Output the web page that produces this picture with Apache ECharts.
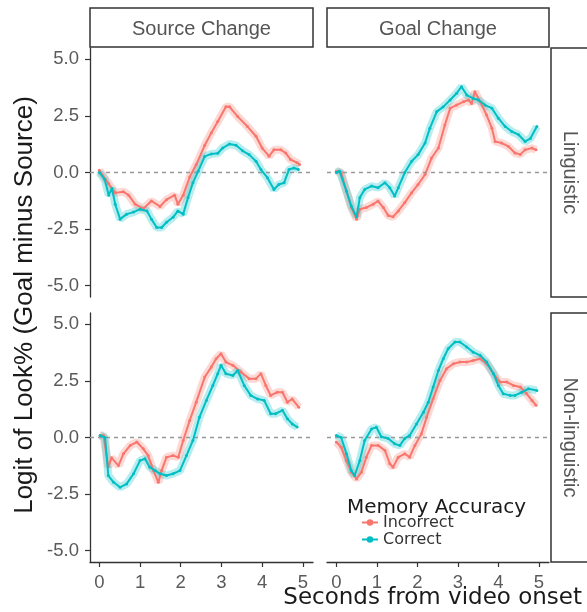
<!DOCTYPE html>
<html><head><meta charset="utf-8">
<script src="https://cdn.jsdelivr.net/npm/echarts@6/dist/echarts.min.js"></script>
<style>html,body{margin:0;padding:0;background:#fff}#c{width:587px;height:612px}</style>
</head><body><div id="c"></div>
<script>
// ---- Facets and ticks ----
const colFacets = ['Source Change', 'Goal Change'];
const rowFacets = ['Linguistic', 'Non-linguistic'];
const accuracyLevels = ['Incorrect', 'Correct'];
const xTicks = [0, 1, 2, 3, 4, 5];
const yTicks = [-5, -2.5, 0, 2.5, 5];

// ---- Source Change / Linguistic ----
const scLingIncT = [0, 0.23, 0.39, 0.59, 0.72, 0.88, 1.08, 1.28, 1.49, 1.65, 1.85, 1.93, 2.06, 2.22, 2.38, 2.59, 2.75, 2.91, 3.11, 3.2, 3.4, 3.64, 3.85, 4.0, 4.17, 4.29, 4.46, 4.58, 4.7, 4.86, 4.92];
const scLingIncV = [0.1, -0.5, -0.9, -0.85, -1.0, -1.4, -1.6, -1.26, -1.5, -1.2, -1.0, -1.4, -1.0, -0.2, 0.35, 1.2, 1.75, 2.25, 2.9, 2.9, 2.47, 2.03, 1.6, 1.08, 0.72, 1.0, 1.0, 0.86, 0.57, 0.43, 0.35];
const scLingCorT = [0, 0.13, 0.23, 0.31, 0.39, 0.51, 0.67, 0.84, 1.0, 1.17, 1.28, 1.41, 1.53, 1.65, 1.81, 1.93, 2.06, 2.18, 2.3, 2.43, 2.59, 2.75, 2.91, 3.03, 3.2, 3.36, 3.52, 3.68, 3.85, 3.97, 4.13, 4.29, 4.41, 4.54, 4.66, 4.78, 4.89];
const scLingCorV = [0.0, -0.3, -1.0, -0.7, -1.4, -2.06, -1.84, -1.75, -1.62, -1.7, -2.06, -2.43, -2.43, -2.2, -1.98, -1.7, -1.84, -1.1, -0.45, 0.06, 0.71, 0.82, 0.85, 1.08, 1.26, 1.2, 0.96, 0.79, 0.5, 0.13, -0.23, -0.75, -0.53, -0.45, 0.13, 0.2, 0.13];

// ---- Goal Change / Linguistic ----
const gcLingIncT = [0, 0.12, 0.25, 0.37, 0.5, 0.58, 0.74, 0.91, 1.03, 1.16, 1.28, 1.4, 1.53, 1.69, 1.86, 2.02, 2.19, 2.35, 2.52, 2.68, 2.81, 2.97, 3.14, 3.26, 3.34, 3.42, 3.55, 3.71, 3.84, 3.92, 4.08, 4.25, 4.41, 4.54, 4.66, 4.83, 4.93];
const gcLingIncV = [0.06, 0.0, -0.82, -1.55, -2.06, -1.62, -1.55, -1.4, -1.26, -1.55, -1.9, -1.96, -1.7, -1.33, -0.89, -0.53, -0.09, 0.64, 1.08, 2.1, 2.84, 2.98, 3.13, 3.2, 3.05, 3.57, 3.13, 2.54, 1.96, 1.37, 1.3, 1.15, 0.86, 0.8, 1.0, 1.08, 1.0];
const gcLingCorT = [0, 0.08, 0.25, 0.37, 0.5, 0.58, 0.7, 0.87, 1.03, 1.2, 1.32, 1.44, 1.53, 1.69, 1.86, 2.02, 2.19, 2.31, 2.48, 2.64, 2.81, 2.97, 3.09, 3.22, 3.38, 3.51, 3.67, 3.84, 4.0, 4.17, 4.33, 4.5, 4.66, 4.79, 4.95];
const gcLingCorV = [0.0, 0.06, -0.82, -1.48, -1.96, -1.11, -0.75, -0.6, -0.67, -0.45, -0.67, -1.04, -0.67, 0.0, 0.5, 0.79, 1.3, 1.96, 2.69, 2.9, 3.2, 3.5, 3.79, 3.42, 3.27, 3.2, 2.98, 2.84, 2.4, 2.03, 1.81, 1.67, 1.37, 1.5, 2.03];

// ---- Source Change / Non-linguistic ----
const scNonIncT = [0.02, 0.1, 0.22, 0.3, 0.47, 0.59, 0.76, 0.92, 1.08, 1.2, 1.33, 1.45, 1.53, 1.65, 1.81, 1.94, 2.06, 2.22, 2.38, 2.59, 2.75, 2.87, 2.99, 3.11, 3.28, 3.48, 3.68, 3.85, 3.97, 4.09, 4.21, 4.37, 4.5, 4.62, 4.74, 4.9];
const scNonIncV = [0.09, 0.09, -1.3, -0.9, -1.24, -0.72, -0.35, -0.2, -0.5, -0.8, -1.46, -1.98, -1.46, -0.87, -0.8, -0.87, -0.13, 0.75, 1.56, 2.67, 3.11, 3.48, 3.7, 3.33, 3.19, 2.89, 2.6, 2.6, 2.82, 2.3, 1.86, 2.0, 2.0, 1.56, 1.7, 1.34];
const scNonCorT = [0.02, 0.14, 0.22, 0.35, 0.51, 0.67, 0.84, 1.0, 1.12, 1.24, 1.37, 1.49, 1.65, 1.81, 1.98, 2.14, 2.3, 2.46, 2.63, 2.79, 2.91, 2.99, 3.11, 3.28, 3.4, 3.56, 3.72, 3.89, 4.05, 4.21, 4.33, 4.5, 4.62, 4.74, 4.86];
const scNonCorV = [0.09, 0.0, -1.68, -1.98, -2.2, -2.05, -1.6, -1.02, -0.94, -1.31, -1.46, -1.6, -1.68, -1.6, -1.46, -0.8, -0.13, 0.9, 1.64, 2.3, 2.82, 3.19, 2.82, 2.74, 2.96, 2.3, 1.86, 1.7, 1.64, 1.05, 1.05, 1.2, 0.83, 0.6, 0.46];

// ---- Goal Change / Non-linguistic ----
const gcNonIncT = [0, 0.12, 0.25, 0.37, 0.5, 0.62, 0.74, 0.87, 1.03, 1.2, 1.32, 1.4, 1.53, 1.69, 1.81, 1.94, 2.1, 2.23, 2.39, 2.56, 2.72, 2.89, 3.05, 3.22, 3.38, 3.55, 3.71, 3.88, 4.04, 4.21, 4.37, 4.54, 4.7, 4.83, 4.93];
const gcNonIncV = [-0.2, -0.43, -1.02, -1.53, -1.83, -1.53, -0.87, -0.35, -0.35, -0.57, -1.16, -1.31, -0.87, -0.72, -0.87, -0.35, 0.16, 0.9, 1.71, 2.52, 3.04, 3.26, 3.33, 3.33, 3.4, 3.48, 3.26, 2.82, 2.45, 2.45, 2.3, 2.23, 1.93, 1.64, 1.42];
const gcNonCorT = [0, 0.12, 0.25, 0.37, 0.45, 0.58, 0.7, 0.87, 0.99, 1.11, 1.28, 1.44, 1.57, 1.69, 1.81, 1.98, 2.15, 2.27, 2.39, 2.52, 2.64, 2.76, 2.93, 3.05, 3.22, 3.38, 3.55, 3.71, 3.88, 4.0, 4.12, 4.29, 4.41, 4.58, 4.74, 4.95];
const gcNonCorV = [0.09, 0.0, -0.72, -1.46, -1.68, -1.02, -0.13, 0.38, 0.45, 0.03, -0.04, -0.28, -0.35, -0.04, 0.09, 0.6, 1.12, 1.56, 2.23, 2.96, 3.48, 3.92, 4.22, 4.22, 4.0, 3.77, 3.63, 3.33, 2.82, 2.3, 1.93, 1.86, 1.86, 2.0, 2.15, 2.08];

// ---- build ----
const panelData = [
  [[scLingIncT, scLingIncV], [scLingCorT, scLingCorV]],
  [[gcLingIncT, gcLingIncV], [gcLingCorT, gcLingCorV]],
  [[scNonIncT, scNonIncV], [scNonCorT, scNonCorV]],
  [[gcNonIncT, gcNonIncV], [gcNonCorT, gcNonCorV]]
];
const colors = ['#F8766D', '#00BFC4'];
const colLeft = [90, 327], colWidth = [223, 222];
const rowTop = [48, 313], panelH = 249;
const sans = 'Liberation Sans, Arial, sans-serif';
const dejavu = 'DejaVu Sans, sans-serif';

const grids = [], xAxes = [], yAxes = [], series = [], graphics = [];
for (let r = 0; r < 2; r++) {
  for (let c = 0; c < 2; c++) {
    const i = r * 2 + c;
    grids.push({ left: colLeft[c], top: rowTop[r], width: colWidth[c], height: panelH, containLabel: false });
    const showX = r === 1, showY = c === 0;
    xAxes.push({
      type: 'value', gridIndex: i, min: -0.23, max: 5.25,
      axisLine: { show: showX, onZero: false, lineStyle: { color: '#333', width: 1.3 } },
      axisTick: { show: showX, customValues: xTicks, length: 5, lineStyle: { color: '#333', width: 1.2 } },
      axisLabel: { show: showX, customValues: xTicks, margin: 11, color: '#5a5a5a', fontSize: 18.5, fontFamily: sans },
      splitLine: { show: false }
    });
    yAxes.push({
      type: 'value', gridIndex: i, min: -5.5, max: 5.5,
      axisLine: { show: showY, onZero: false, lineStyle: { color: '#333', width: 1.3 } },
      axisTick: { show: showY, customValues: yTicks, length: 5, lineStyle: { color: '#333', width: 1.2 } },
      axisLabel: { show: showY, customValues: yTicks, margin: 11, color: '#5a5a5a', fontSize: 18.5, fontFamily: sans,
        formatter: v => v.toFixed(1) },
      splitLine: { show: false }
    });
    for (let a = 0; a < 2; a++) {
      const [ts, vs] = panelData[i][a];
      const data = ts.map((t, k) => [t, vs[k]]);
      const s = {
        type: 'line', name: accuracyLevels[a], xAxisIndex: i, yAxisIndex: i, data,
        symbol: 'circle', symbolSize: 3, showSymbol: true,
        lineStyle: { color: colors[a], width: 2 }, itemStyle: { color: colors[a] },
        z: 4 + a, animation: false
      };
      if (a === 0) {
        s.markLine = { silent: true, symbol: 'none', animation: false, label: { show: false },
          lineStyle: { type: [4, 4], color: '#999', width: 1.3 }, data: [{ yAxis: 0 }] };
      }
      series.push(s);
    }
  }
}
// error-band halos (same data, drawn underneath)
for (let i = 0; i < 4; i++) {
  for (let a = 0; a < 2; a++) {
    const [ts, vs] = panelData[i][a];
    series.push({
      type: 'line', name: accuracyLevels[a], xAxisIndex: i, yAxisIndex: i,
      data: ts.map((t, k) => [t, vs[k]]), symbol: 'none', silent: true,
      lineStyle: { color: colors[a], width: 8, opacity: 0.28 }, z: 2, animation: false
    });
  }
}

// strips
for (let c = 0; c < 2; c++) {
  graphics.push({ type: 'rect', shape: { x: colLeft[c], y: 8, width: colWidth[c], height: 39 },
    style: { fill: '#fff', stroke: '#333', lineWidth: 1.5 } });
  graphics.push({ type: 'text', x: colLeft[c] + colWidth[c] / 2, y: 29,
    style: { text: colFacets[c], fill: '#555', font: '20px ' + sans, align: 'center', verticalAlign: 'middle' } });
}
for (let r = 0; r < 2; r++) {
  graphics.push({ type: 'rect', shape: { x: 551, y: rowTop[r], width: 40, height: panelH },
    style: { fill: '#fff', stroke: '#333', lineWidth: 1.5 } });
  graphics.push({ type: 'text', x: 570, y: rowTop[r] + panelH / 2, rotation: -Math.PI / 2,
    style: { text: rowFacets[r], fill: '#555', font: '20px ' + sans, align: 'center', verticalAlign: 'middle' } });
}
// axis titles
graphics.push({ type: 'text', x: 25, y: 305, rotation: Math.PI / 2,
  style: { text: 'Logit of Look% (Goal minus Source)', fill: '#1a1a1a', font: '26px ' + sans, align: 'center', verticalAlign: 'middle' } });
graphics.push({ type: 'text', x: 582, y: 598,
  style: { text: 'Seconds from video onset', fill: '#1a1a1a', font: '23px ' + dejavu, align: 'right', verticalAlign: 'middle' } });
// legend title
graphics.push({ type: 'text', x: 347, y: 508, z: 10,
  style: { text: 'Memory Accuracy', fill: '#1a1a1a', font: '20px ' + dejavu, align: 'left', verticalAlign: 'middle' } });

const chart = echarts.init(document.getElementById('c'), null, { renderer: 'canvas' });
chart.setOption({
  animation: false,
  backgroundColor: '#fff',
  grid: grids, xAxis: xAxes, yAxis: yAxes, series,
  legend: {
    data: accuracyLevels, orient: 'vertical', left: 361, top: 514, itemGap: 0,
    itemWidth: 16, itemHeight: 8, padding: 0,
    textStyle: { fontFamily: dejavu, fontSize: 16, color: '#333', lineHeight: 17 }
  },
  graphic: graphics
});
</script></body></html>
